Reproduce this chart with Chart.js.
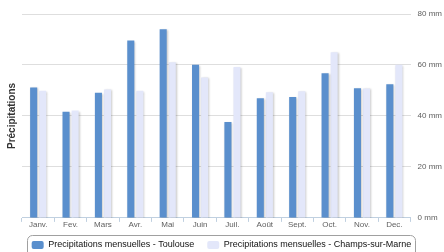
<!DOCTYPE html>
<html>
<head>
<meta charset="utf-8">
<script src="https://cdn.jsdelivr.net/npm/chart.js@4"></script>
<style>
  html, body { margin: 0; padding: 0; background: #fff; }
  #wrap { width: 444px; height: 252px; position: relative; }
</style>
</head>
<body>
<div id="wrap"><canvas id="c" width="444" height="252"></canvas></div>
<script>
const months = ['Janv.', 'Fev.', 'Mars', 'Avr.', 'Mai', 'Juin', 'Juil.', 'Août', 'Sept.', 'Oct.', 'Nov.', 'Dec.'];
const toulouse = [51.2, 41.6, 49.1, 69.6, 74.0, 60.1, 37.6, 46.9, 47.4, 56.8, 50.9, 52.4];
const champs = [49.9, 42.1, 50.4, 49.9, 61.1, 55.1, 59.2, 49.3, 49.7, 65.0, 50.8, 60.1];
const seriesNames = ['Precipitations mensuelles - Toulouse', 'Precipitations mensuelles - Champs-sur-Marne'];
const yTicks = [0, 20, 40, 60, 80];
const yTitle = 'Précipitations';

const shadowPlugin = {
  id: 'barShadow',
  beforeDatasetsDraw(chart) {
    const ctx = chart.ctx;
    ctx.save();
    ctx.shadowColor = 'rgba(0,0,0,0.22)';
    ctx.shadowOffsetX = 1;
    ctx.shadowOffsetY = 1;
    ctx.shadowBlur = 2;
  },
  afterDatasetsDraw(chart) {
    chart.ctx.restore();
  }
};

const legendShift = {
  id: 'legendShift',
  afterLayout(chart) {
    if (chart.legend) { chart.legend.left -= 6; }
  }
};

const legendFrame = {
  id: 'legendFrame',
  afterDraw(chart) {
    const lg = chart.legend;
    if (!lg || !lg.legendHitBoxes || !lg.legendHitBoxes.length) return;
    const hb = lg.legendHitBoxes;
    const first = hb[0], last = hb[hb.length - 1];
    const x0 = Math.round(first.left - 5) + 0.5;
    const x1 = Math.round(last.left + last.width + 4) + 0.5;
    const y0 = Math.round(first.top - 6) + 0.5;
    const ctx = chart.ctx;
    ctx.save();
    ctx.strokeStyle = '#a0a0a0';
    ctx.lineWidth = 1;
    ctx.beginPath();
    ctx.roundRect(x0, y0, x1 - x0, 40, 5);
    ctx.stroke();
    ctx.restore();
  }
};

new Chart(document.getElementById('c'), {
  type: 'bar',
  data: {
    labels: months,
    datasets: [
      { label: seriesNames[0], data: toulouse, backgroundColor: '#5a8fcd', borderWidth: 0, yAxisID: 'y',
        categoryPercentage: 0.56, barPercentage: 0.78 },
      { label: seriesNames[1], data: champs, backgroundColor: '#e3e7fa', borderWidth: 0, yAxisID: 'y',
        categoryPercentage: 0.56, barPercentage: 0.78 }
    ]
  },
  options: {
    responsive: false,
    animation: false,
    devicePixelRatio: 1,
    layout: { padding: { left: 0, right: -5, top: 14, bottom: -7.5 } },
    plugins: {
      tooltip: { enabled: false },
      legend: {
        position: 'bottom',
        labels: {
          boxWidth: 12,
          boxHeight: 8,
          padding: 13,
          color: '#111',
          font: { family: '"Liberation Sans", Arial, sans-serif', size: 9 },
          useBorderRadius: true,
          borderRadius: 2
        }
      }
    },
    scales: {
      x: {
        grid: { display: true, drawOnChartArea: false, drawTicks: true, tickLength: 4, color: '#c0d0e0', offset: true },
        border: { display: true, color: '#c0d0e0' },
        ticks: { color: '#606060', padding: -2, font: { family: '"Liberation Sans", Arial, sans-serif', size: 8 }, maxRotation: 0, autoSkip: false }
      },
      y: {
        position: 'right',
        min: 0, max: 80,
        afterBuildTicks(axis) { axis.ticks = yTicks.map(v => ({ value: v })); },
        grid: { color: '#dedede', drawTicks: false },
        border: { display: false },
        ticks: { color: '#606060', padding: 7, font: { family: '"Liberation Sans", Arial, sans-serif', size: 8 },
          callback: v => v + ' mm' }
      },
      yt: {
        position: 'left',
        display: true,
        grid: { display: false, drawTicks: false },
        border: { display: false },
        ticks: { display: false },
        title: { display: true, text: yTitle, color: '#333', padding: { top: 6, bottom: 4 },
          font: { family: '"Liberation Sans", Arial, sans-serif', size: 10, weight: 'bold' } }
      }
    }
  },
  plugins: [shadowPlugin, legendShift, legendFrame]
});
</script>
</body>
</html>
